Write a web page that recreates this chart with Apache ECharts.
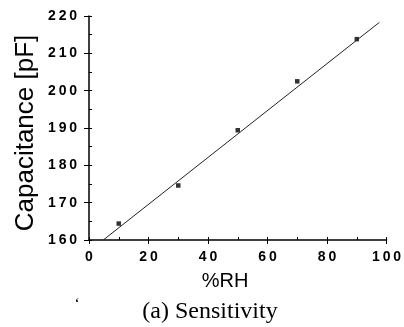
<!DOCTYPE html>
<html>
<head>
<meta charset="utf-8">
<script src="https://cdn.jsdelivr.net/npm/echarts@6/dist/echarts.min.js"></script>
<style>
  html, body { margin: 0; padding: 0; background: #fff; }
  #main { width: 404px; height: 327px; }
</style>
</head>
<body>
<div id="main"></div>
<script>
// measured points
var rh = [10, 30, 50, 70, 90];
var capacitance = [164.4, 174.6, 189.4, 202.5, 213.8];
// fitted line end points
var fitRh = [4.8, 97.6];
var fitCap = [160, 218.3];

var myChart = echarts.init(document.getElementById('main'));

// tick labels in the scan are letter-spaced
function spaced(v) {
    return String(v).split('').join('\u2009');
}

var tickFont = {
    fontFamily: 'Liberation Sans',
    fontWeight: 'bold',
    fontSize: 14,
    color: '#000',
    formatter: spaced
};

option = {
    backgroundColor: '#fff',
    animation: false,
    grid: { left: 89, right: 14, top: 16, bottom: 87 },
    xAxis: [{
        type: 'value', min: 0, max: 100, interval: 20,
        axisLine: { lineStyle: { color: '#000', width: 1.5 } },
        axisTick: { length: 4, lineStyle: { color: '#000' } },
        axisLabel: Object.assign({ margin: 10 }, tickFont),
        splitLine: { show: false }
    }, {
        type: 'value', min: 0, max: 100, interval: 10, position: 'bottom',
        axisLine: { show: false },
        axisTick: { inside: true, length: 3, lineStyle: { color: '#000' } },
        axisLabel: { show: false },
        splitLine: { show: false }
    }],
    yAxis: [{
        type: 'value', min: 160, max: 220, interval: 10,
        axisLine: { show: true, lineStyle: { color: '#000', width: 1.5 } },
        axisTick: { show: true, length: 5, lineStyle: { color: '#000' } },
        axisLabel: Object.assign({ margin: 12 }, tickFont),
        splitLine: { show: false }
    }, {
        type: 'value', min: 160, max: 220, interval: 5, position: 'left',
        axisLine: { show: false },
        axisTick: { show: true, inside: true, length: 3, lineStyle: { color: '#000' } },
        axisLabel: { show: false },
        splitLine: { show: false }
    }],
    graphic: [{
        type: 'text', x: 26, y: 133, rotation: Math.PI / 2,
        style: {
            text: 'Capacitance [pF]', font: '26px "Liberation Sans"', fill: '#000',
            textAlign: 'center', textVerticalAlign: 'middle'
        }
    }, {
        type: 'text', x: 225, y: 281,
        style: {
            text: '%RH', font: '20px "Liberation Sans"', fill: '#000',
            textAlign: 'center', textVerticalAlign: 'middle'
        }
    }, {
        type: 'text', x: 210, y: 312,
        style: {
            text: '(a) Sensitivity', font: '24px "Liberation Serif"', fill: '#000',
            textAlign: 'center', textVerticalAlign: 'middle'
        }
    }, {
        type: 'text', x: 77, y: 304,
        style: {
            text: '\u02bb', font: 'bold 12px "Liberation Serif"', fill: '#000',
            textAlign: 'center', textVerticalAlign: 'middle'
        }
    }],
    series: [{
        type: 'line',
        data: fitRh.map(function (x, i) { return [x, fitCap[i]]; }),
        showSymbol: false,
        lineStyle: { color: '#222', width: 1 }
    }, {
        type: 'scatter',
        data: rh.map(function (x, i) { return [x, capacitance[i]]; }),
        symbol: 'rect',
        symbolSize: 4.5,
        itemStyle: { color: '#000' }
    }]
};
myChart.setOption(option);
</script>
</body>
</html>
